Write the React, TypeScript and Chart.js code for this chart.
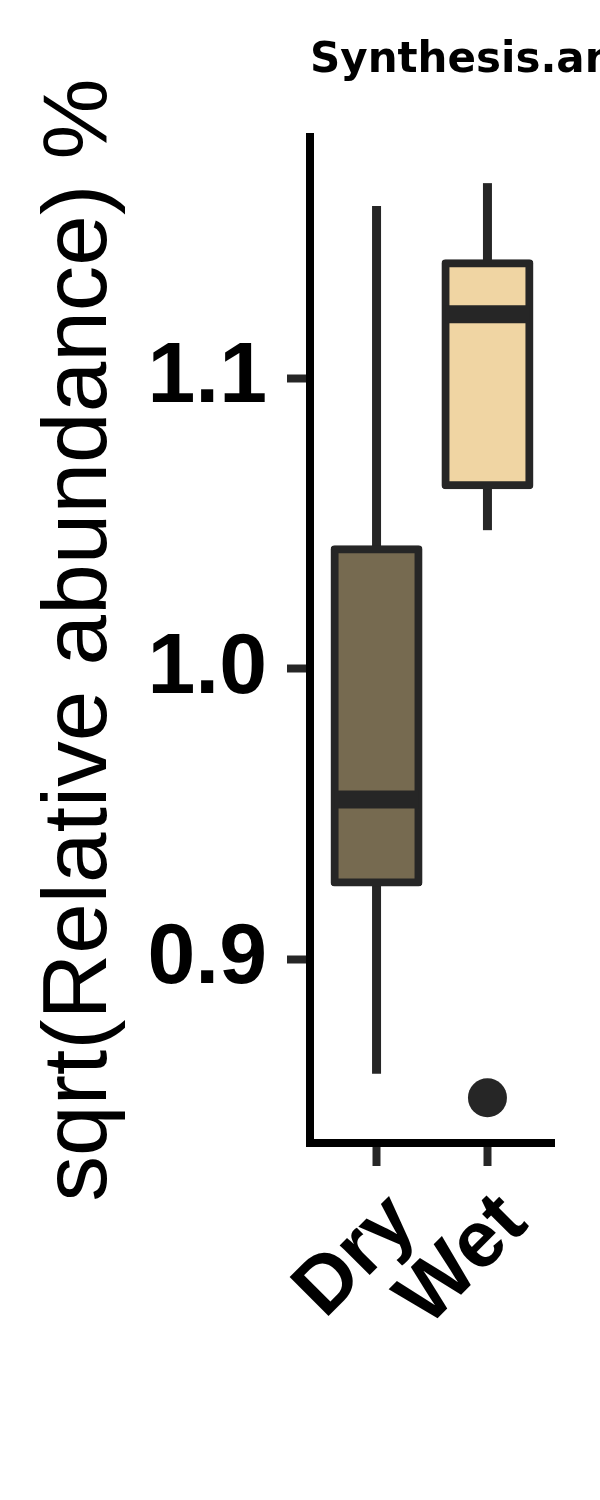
import React, { useEffect, useRef } from 'react';
import { Chart, registerables } from 'chart.js';

Chart.register(...registerables);

// ---- data ----
const CATEGORIES = ['Dry', 'Wet'];
const CAT_POS = [1, 2];
const WHISKER_LOW = [0.8605, 1.0478];
const Q1 = [0.9264, 1.0633];
const MEDIAN = [0.955, 1.1222];
const Q3 = [1.0412, 1.1398];
const WHISKER_HIGH = [1.1595, 1.1674];
const OUTLIER_CATS = ['Wet'];
const OUTLIER_VALUES = [0.8522];
const FILLS = ['#766A50', '#F0D5A3'];
const Y_TICKS = [0.9, 1.0, 1.1];
const Y_MIN = 0.8366;
const Y_MAX = 1.1833;
const X_MIN = 0.4;
const X_MAX = 2.6;
const TITLE = 'Synthesis.and.degradation.of.ketone.bodies';
const Y_TITLE = 'sqrt(Relative abundance) %';

const LINE = '#262626';
const FONT = "'Liberation Sans', Arial, sans-serif";

// plot title drawn left-aligned with the panel, without width compression
const panelTitle = {
  id: 'panelTitle',
  afterDraw(chart: any) {
    const { ctx, chartArea } = chart;
    ctx.save();
    ctx.font = "bold 42px 'DejaVu Sans', sans-serif";
    ctx.fillStyle = '#000';
    ctx.textAlign = 'left';
    ctx.textBaseline = 'middle';
    ctx.fillText(TITLE, chartArea.left, 61);
    ctx.restore();
  },
};

export default function App() {
  const ref = useRef<HTMLCanvasElement | null>(null);

  useEffect(() => {
    if (!ref.current) return;
    Chart.defaults.color = '#000';
    Chart.defaults.font.family = FONT;

    const gridOpts = {
      display: true,
      drawOnChartArea: false,
      drawTicks: true,
      tickLength: 23,
      tickWidth: 8,
      tickColor: LINE,
      offset: false,
    };
    const borderOpts = { display: true, color: '#000', width: 8 };

    const chart = new Chart(ref.current, {
      type: 'bar',
      plugins: [panelTitle],
      data: {
        datasets: [
          {
            type: 'bar',
            label: 'box',
            data: CAT_POS.map((x, i) => ({ x, y: [Q1[i], Q3[i]] })) as any,
            backgroundColor: FILLS,
            borderColor: LINE,
            borderWidth: 8,
            borderSkipped: false,
            borderRadius: 4,
            inflateAmount: 4,
            barThickness: 84,
            grouped: false,
            order: 2,
          } as any,
          {
            type: 'bar',
            label: 'lower whisker',
            data: CAT_POS.map((x, i) => ({ x, y: [WHISKER_LOW[i], Q1[i]] })) as any,
            backgroundColor: LINE,
            borderWidth: 0,
            inflateAmount: 0,
            barThickness: 9,
            grouped: false,
            order: 3,
          } as any,
          {
            type: 'bar',
            label: 'upper whisker',
            data: CAT_POS.map((x, i) => ({ x, y: [Q3[i], WHISKER_HIGH[i]] })) as any,
            backgroundColor: LINE,
            borderWidth: 0,
            inflateAmount: 0,
            barThickness: 9,
            grouped: false,
            order: 3,
          } as any,
          {
            type: 'bar',
            label: 'median',
            data: CAT_POS.map((x, i) => ({ x, y: [MEDIAN[i], MEDIAN[i]] })) as any,
            backgroundColor: LINE,
            borderWidth: 0,
            inflateAmount: 9,
            barThickness: 66,
            grouped: false,
            order: 1,
          } as any,
          {
            type: 'scatter',
            label: 'outlier',
            data: OUTLIER_CATS.map((c, i) => ({ x: CAT_POS[CATEGORIES.indexOf(c)], y: OUTLIER_VALUES[i] })),
            pointStyle: 'circle',
            pointRadius: 19.5,
            pointHoverRadius: 19.5,
            backgroundColor: LINE,
            borderWidth: 0,
            order: 0,
          } as any,
        ],
      },
      options: {
        animation: false,
        responsive: false,
        devicePixelRatio: 1,
        layout: { padding: { left: 0, right: 46, top: 137, bottom: 0 } },
        plugins: {
          legend: { display: false },
          tooltip: { enabled: false },
          title: { display: false },
        },
        scales: {
          x: {
            type: 'linear',
            min: X_MIN,
            max: X_MAX,
            offset: false,
            afterBuildTicks: (s: any) => {
              s.ticks = CAT_POS.map((v) => ({ value: v }));
            },
            afterFit: (s: any) => {
              s.height = 357;
              s.paddingLeft = 0;
              s.paddingRight = 0;
            },
            ticks: {
              autoSkip: false,
              minRotation: 45,
              maxRotation: 45,
              padding: 10,
              labelOffset: 27,
              color: '#000',
              font: { family: FONT, size: 80, weight: 'bold' },
              callback: (v: any) => {
                const idx = CAT_POS.indexOf(Number(v));
                return idx >= 0 ? CATEGORIES[idx] : '';
              },
            },
            grid: gridOpts,
            border: borderOpts,
          } as any,
          y: {
            type: 'linear',
            min: Y_MIN,
            max: Y_MAX,
            afterBuildTicks: (s: any) => {
              s.ticks = Y_TICKS.map((v) => ({ value: v }));
            },
            afterFit: (s: any) => {
              s.width = 310;
              s.paddingTop = 0;
              s.paddingBottom = 0;
            },
            ticks: {
              padding: 20,
              color: '#000',
              font: { family: FONT, size: 86, weight: 'bold' },
              callback: (v: any) => Number(v).toFixed(1),
            },
            grid: gridOpts,
            border: borderOpts,
            title: {
              display: true,
              text: Y_TITLE,
              color: '#000',
              font: { family: FONT, size: 91, weight: 'normal' },
              padding: { top: 26, bottom: 0 },
            },
          } as any,
        },
      },
    });
    return () => chart.destroy();
  }, []);

  return (
    <div style={{ position: 'absolute', left: 0, top: 0, width: 600, height: 1500, background: '#fff' }}>
      <canvas ref={ref} width={600} height={1500} style={{ display: 'block', width: 600, height: 1500 }} />
    </div>
  );
}
